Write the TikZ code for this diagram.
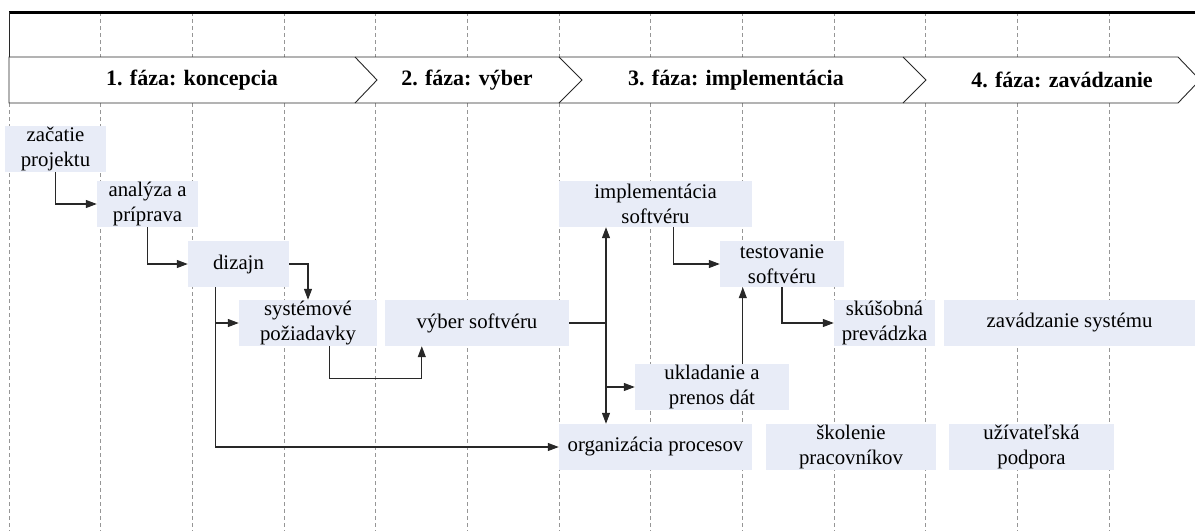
\documentclass[tikz,border=0pt]{standalone}
\usepackage{fontspec}
\setmainfont{Liberation Serif}
\usetikzlibrary{arrows.meta,calc}
\definecolor{boxfill}{RGB}{232,236,247}
\definecolor{gridgray}{RGB}{150,150,150}
\definecolor{linedark}{RGB}{40,40,40}
\begin{document}
\begin{tikzpicture}[x=1pt,y=-1pt,
  task/.style={fill=boxfill, inner sep=0pt, minimum height=46pt, align=center,
    font=\fontsize{20.8}{25}\selectfont},
  phase/.style={inner sep=0pt, font=\fontsize{22}{26}\selectfont\bfseries},
  conn/.style={draw=linedark, line width=1.1pt, -{Triangle[length=11pt,width=8pt]}},
  connboth/.style={draw=linedark, line width=1.1pt, {Triangle[length=11pt,width=8pt]}-{Triangle[length=11pt,width=8pt]}},
  plainline/.style={draw=linedark, line width=1.1pt},
  grid/.style={draw=gridgray, line width=0.7pt, dash pattern=on 4pt off 3pt},
  band/.style={draw=linedark, line width=0.9pt}
]
\useasboundingbox (0,0) rectangle (1195,531);

% dashed grid
\foreach \k in {0,...,12} {
  \draw[grid] ({9+91.67*\k},12) -- ({9+91.67*\k},531);
}

% top line and left edge
\draw[line width=3pt] (9,12) -- (1195,12);
\draw[band] (9,12) -- (9,57);

% phase band
\draw[band, fill=white] (9,57) -- (1178,57) -- (1200,80) -- (1178,103) -- (9,103) -- cycle;
\draw[band] (355,57) -- (377,80) -- (355,103);
\draw[band] (559,57) -- (582,80) -- (559,103);
\draw[band] (903,57) -- (926,80) -- (903,103);

\node[phase] (p1) at (192,80) {1. fáza: koncepcia};
\node[phase] (p2) at (467,80) {2. fáza: výber};
\node[phase] (p3) at (736,80) {3. fáza: implementácia};
\node[phase] (p4) at (1062,80) {4. fáza: zavádzanie};

% tasks
\node[task, minimum width=101pt] (zac) at (55.5,149) {začatie\\projektu};
\node[task, minimum width=101pt] (ana) at (147.5,204) {analýza a\\príprava};
\node[task, minimum width=101pt] (diz) at (238.5,264) {dizajn};
\node[task, minimum width=138pt] (sys) at (308,323) {systémové\\požiadavky};
\node[task, minimum width=184pt] (vyb) at (477,323) {výber softvéru};
\node[task, minimum width=193pt] (imp) at (655.5,204) {implementácia\\softvéru};
\node[task, minimum width=124pt] (tes) at (782,264) {testovanie\\softvéru};
\node[task, minimum width=154pt] (ukl) at (712,387) {ukladanie a\\prenos dát};
\node[task, minimum width=101pt] (sku) at (884.5,323) {skúšobná\\prevádzka};
\node[task, minimum width=251pt] (zav) at (1069.5,323) {zavádzanie systému};
\node[task, minimum width=193pt] (org) at (655.5,447) {organizácia procesov};
\node[task, minimum width=170pt] (sko) at (851,447) {školenie\\pracovníkov};
\node[task, minimum width=165pt] (uzi) at (1031.5,447) {užívateľská\\podpora};

% connectors
\draw[conn] (zac.south) |- (ana.west);
\draw[conn] (ana.south) |- (diz.west);
\draw[conn] (diz.east) -| (sys.north);
\coordinate (dz) at ([xshift=28pt]diz.south west);
\draw[conn] (dz) |- (sys.west);
\draw[conn] (dz) |- (org.west);
\coordinate (sy) at ([xshift=91pt]sys.south west);
\coordinate (vb) at ([xshift=37pt]vyb.south west);
\draw[conn] (sy) -- ++(0,32) -| (vb);
\coordinate (bus) at (606,323);
\draw[plainline] (vyb.east) -- (bus);
\draw[connboth] (imp.south -| bus) -- (org.north -| bus);
\draw[conn] (bus |- ukl.west) -- (ukl.west);
\coordinate (im) at ([xshift=115pt]imp.south west);
\draw[conn] (im) |- (tes.west);
\coordinate (uk) at ([xshift=108pt]ukl.north west);
\draw[conn] (uk) -- (uk |- tes.south);
\draw[conn] (tes.south) |- (sku.west);
\end{tikzpicture}
\end{document}
